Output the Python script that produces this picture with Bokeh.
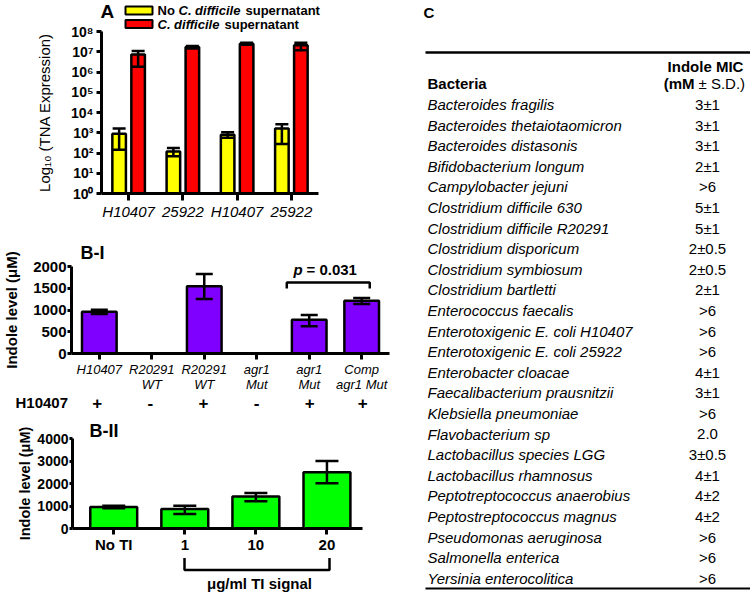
from bokeh.plotting import figure
from bokeh.models import (Range1d, FixedTicker, CustomJSTickFormatter, Whisker,
                          TeeHead, ColumnDataSource)
from bokeh.transform import dodge
from bokeh.core.properties import value
from bokeh.embed import file_html
from bokeh.resources import INLINE

FONT = "Liberation Sans"

# ---------------- Panel A data ----------------
a_strains = ["H10407", "25922", "H10407", "25922"]
a_no_sup = [900, 120, 800, 1600]
a_no_sup_lo = [145, 70, 560, 280]
a_no_sup_hi = [1600, 175, 1070, 2600]
a_sup = [7.4e6, 1.7e7, 2.5e7, 2.1e7]
a_sup_lo = [1.8e6, 1.45e7, 2.2e7, 1.2e7]
a_sup_hi = [1.1e7, 1.95e7, 2.8e7, 2.8e7]
a_yticks = [1, 10, 100, 1e3, 1e4, 1e5, 1e6, 1e7, 1e8]

# ---------------- Panel B-I data ----------------
bi_labels = ["H10407", "R20291\nWT", "R20291\nWT", "agr1\nMut", "agr1\nMut", "Comp\nagr1 Mut"]
bi_h10407 = ["+", "-", "+", "-", "+", "+"]
bi_vals = [960, 0, 1545, 0, 775, 1215]
bi_lo = [910, 0, 1255, 0, 625, 1140]
bi_hi = [1005, 0, 1830, 0, 885, 1275]
bi_yticks = [0, 500, 1000, 1500, 2000]
bi_pvalue = "0.031"

# ---------------- Panel B-II data ----------------
bii_labels = ["No TI", "1", "10", "20"]
bii_vals = [960, 865, 1420, 2500]
bii_lo = [900, 640, 1210, 2010]
bii_hi = [1010, 1015, 1580, 2995]
bii_yticks = [0, 1000, 2000, 3000, 4000]

# ---------------- Panel C data ----------------
c_bacteria = [
    "Bacteroides fragilis", "Bacteroides thetaiotaomicron", "Bacteroides distasonis",
    "Bifidobacterium longum", "Campylobacter jejuni", "Clostridium difficile 630",
    "Clostridium difficile R20291", "Clostridium disporicum", "Clostridium symbiosum",
    "Clostridium bartletti", "Enterococcus faecalis", "Enterotoxigenic E. coli  H10407",
    "Enterotoxigenic E. coli 25922", "Enterobacter cloacae", "Faecalibacterium prausnitzii",
    "Klebsiella pneumoniae", "Flavobacterium sp", "Lactobacillus species LGG",
    "Lactobacillus rhamnosus", "Peptotreptococcus anaerobius", "Peptostreptococcus magnus",
    "Pseudomonas aeruginosa", "Salmonella enterica", "Yersinia enterocolitica"]
c_mic = ["3\u00b11", "3\u00b11", "3\u00b11", "2\u00b11", ">6", "5\u00b11", "5\u00b11",
         "2\u00b10.5", "2\u00b10.5", "2\u00b11", ">6", ">6", ">6", "4\u00b11", "3\u00b11",
         ">6", "2.0", "3\u00b10.5", "4\u00b11", "4\u00b12", "4\u00b12", ">6", ">6", ">6"]

YELLOW = "#FFFF00"
RED = "#FF0000"
PURPLE = "#8000FF"
GREEN = "#00FF00"


def place(p, left, top):
    p.styles = {"position": "absolute", "left": f"{left}px", "top": f"{top}px"}


def style(p):
    p.outline_line_color = None
    p.xgrid.visible = False
    p.ygrid.visible = False
    p.background_fill_color = "white"
    p.border_fill_color = "white"
    for ax in p.axis:
        ax.axis_line_width = 3
        ax.axis_line_color = "black"
        ax.major_tick_line_width = 3
        ax.major_tick_line_color = "black"
        ax.major_tick_in = 0
        ax.minor_tick_line_color = None
        ax.major_label_text_font = FONT
        ax.major_label_text_color = "black"
        ax.axis_label_text_font = FONT
        ax.axis_label_text_color = "black"


def whisk(p, src, base, lo, hi, size):
    p.add_layout(Whisker(source=src, base=base, lower=lo, upper=hi, line_width=2.5,
                         line_color="black", level="annotation",
                         upper_head=TeeHead(size=size, line_width=2.5, line_color="black"),
                         lower_head=TeeHead(size=size, line_width=2.5, line_color="black")))


# ================= Panel A =================
# frame: x 101..318, y 31..195 (page pixels)
xa = list(range(1, len(a_strains) + 1))
srcA = ColumnDataSource(dict(x=xa, no=a_no_sup, no_lo=a_no_sup_lo, no_hi=a_no_sup_hi,
                             sup=a_sup, sup_lo=a_sup_lo, sup_hi=a_sup_hi))
pA = figure(width=420, height=222, x_range=Range1d(0.5, 4.5), y_range=Range1d(1, 1e8),
            y_axis_type="log", output_backend="svg", toolbar_location=None, title=None,
            min_border_left=101, min_border_right=102, min_border_top=31, min_border_bottom=27)
style(pA)
pA.vbar(x=dodge("x", -0.175, range=pA.x_range), top="no", bottom=1, width=0.25, source=srcA,
        fill_color=YELLOW, line_color="black", line_width=2.5)
pA.vbar(x=dodge("x", 0.175, range=pA.x_range), top="sup", bottom=1, width=0.25, source=srcA,
        fill_color=RED, line_color="black", line_width=2.5)
whisk(pA, srcA, dodge("x", -0.175, range=pA.x_range), "no_lo", "no_hi", 13)
whisk(pA, srcA, dodge("x", 0.175, range=pA.x_range), "sup_lo", "sup_hi", 13)
pA.yaxis.ticker = FixedTicker(ticks=a_yticks)
pA.yaxis.formatter = CustomJSTickFormatter(code="""
const sup = {"0":"\u2070","1":"\u00b9","2":"\u00b2","3":"\u00b3","4":"\u2074","5":"\u2075","6":"\u2076","7":"\u2077","8":"\u2078","9":"\u2079"};
const e = Math.round(Math.log10(tick));
return "10" + String(e).split("").map(c => sup[c]).join("");
""")
pA.yaxis.major_label_text_font_size = "14px"
pA.yaxis.major_label_text_font_style = "bold"
pA.yaxis.major_tick_out = 5
pA.yaxis.major_label_standoff = 3
pA.yaxis.axis_label = "Log\u2081\u2080 (TNA Expression)"
pA.yaxis.axis_label_text_font_size = "15px"
pA.yaxis.axis_label_text_font_style = "normal"
pA.yaxis.axis_label_standoff = 15
pA.xaxis.ticker = FixedTicker(ticks=xa)
pA.xaxis.major_label_overrides = {i: s for i, s in zip(xa, a_strains)}
pA.xaxis.major_label_text_font_size = "15px"
pA.xaxis.major_label_text_font_style = "italic"
pA.xaxis.major_tick_out = 7
pA.xaxis.major_label_standoff = 2
place(pA, 0, 0)

# ================= Panel B-I =================
# figure top 222; frame x 67..389, y 266..353
BI_X0, BI_X1 = 0.47, 6.53


def by_(py):
    return (353 - py) / 87 * 2000


def bx_(px):
    return BI_X0 + (px - 67) / 322 * (BI_X1 - BI_X0)


xbi = list(range(1, len(bi_labels) + 1))
srcBI = ColumnDataSource(dict(x=xbi, v=bi_vals))
ebi = [i for i, v in enumerate(bi_vals) if v > 0]
srcBIe = ColumnDataSource(dict(x=[xbi[i] for i in ebi], lo=[bi_lo[i] for i in ebi],
                               hi=[bi_hi[i] for i in ebi]))
pBI = figure(width=420, height=190, x_range=Range1d(BI_X0, BI_X1), y_range=Range1d(0, 2000),
             output_backend="svg", toolbar_location=None, title=None,
             min_border_left=67, min_border_right=31, min_border_top=44, min_border_bottom=59)
style(pBI)
pBI.vbar(x="x", top="v", bottom=0, width=0.66, source=srcBI, fill_color=PURPLE,
         line_color="black", line_width=2.5)
whisk(pBI, srcBIe, "x", "lo", "hi", 17)
pBI.yaxis.ticker = FixedTicker(ticks=bi_yticks)
pBI.yaxis.major_label_text_font_size = "15px"
pBI.yaxis.major_label_text_font_style = "bold"
pBI.yaxis.major_tick_out = 4
pBI.yaxis.major_label_standoff = 1
pBI.yaxis.axis_label = "Indole level (\u03bcM)"
pBI.yaxis.axis_label_text_font_size = "15px"
pBI.yaxis.axis_label_text_font_style = "bold"
pBI.yaxis.axis_label_standoff = 10
pBI.xaxis.ticker = FixedTicker(ticks=xbi)
pBI.xaxis.major_label_overrides = {i: s for i, s in zip(xbi, bi_labels)}
pBI.xaxis.major_label_text_font_size = "13px"
pBI.xaxis.major_label_text_font_style = "italic"
pBI.xaxis.major_label_text_line_height = 1.05
pBI.xaxis.major_tick_out = 6
pBI.xaxis.major_label_standoff = 2
# significance bracket between agr1 Mut and Comp agr1 Mut
pBI.line(x=[bx_(285), bx_(285), bx_(369), bx_(369)], y=[by_(288), by_(282), by_(282), by_(288)],
         line_width=2.5, line_color="black")
place(pBI, 0, 222)

# ================= Panel B-II =================
# figure top 412; frame x 72..362, y 438..528
BII_X0, BII_X1 = 0.42, 4.5


def cx_(px):
    return BII_X0 + (px - 72) / 290 * (BII_X1 - BII_X0)


xbii = list(range(1, len(bii_labels) + 1))
srcBII = ColumnDataSource(dict(x=xbii, v=bii_vals, lo=bii_lo, hi=bii_hi))
pBII = figure(width=420, height=145, x_range=Range1d(BII_X0, BII_X1), y_range=Range1d(0, 4000),
              output_backend="svg", toolbar_location=None, title=None,
              min_border_left=72, min_border_right=58, min_border_top=26, min_border_bottom=29)
style(pBII)
pBII.vbar(x="x", top="v", bottom=0, width=0.66, source=srcBII, fill_color=GREEN,
          line_color="black", line_width=2.5)
whisk(pBII, srcBII, "x", "lo", "hi", 23)
pBII.yaxis.ticker = FixedTicker(ticks=bii_yticks)
pBII.yaxis.major_label_text_font_size = "14px"
pBII.yaxis.major_label_text_font_style = "bold"
pBII.yaxis.major_tick_out = 3
pBII.yaxis.major_label_standoff = 1
pBII.yaxis.axis_label = "Indole level (\u03bcM)"
pBII.yaxis.axis_label_text_font_size = "14.5px"
pBII.yaxis.axis_label_text_font_style = "bold"
pBII.yaxis.axis_label_standoff = 1
pBII.xaxis.ticker = FixedTicker(ticks=xbii)
pBII.xaxis.major_label_overrides = {i: s for i, s in zip(xbii, bii_labels)}
pBII.xaxis.major_label_text_font_size = "15px"
pBII.xaxis.major_label_text_font_style = "bold"
pBII.xaxis.major_tick_out = 6
pBII.xaxis.major_label_standoff = 1
place(pBII, 0, 412)

# bracket under B-II (shares the x scale); y = page pixel - 557
pBIIb = figure(width=420, height=35, x_range=pBII.x_range, y_range=Range1d(35, 0),
               output_backend="svg", toolbar_location=None, title=None,
               x_axis_location=None, y_axis_location=None,
               min_border_left=72, min_border_right=58, min_border_top=0, min_border_bottom=0)
pBIIb.outline_line_color = None
pBIIb.xgrid.visible = False
pBIIb.ygrid.visible = False
pBIIb.line(x=[cx_(184), cx_(184), cx_(329), cx_(329)], y=[0.5, 12.5, 12.5, 0.5],
           line_width=2.5, line_color="black")
pBIIb.text(x=[cx_(259)], y=[26], text=["\u03bcg/ml TI signal"], text_font=value(FONT),
           text_font_style="bold", text_font_size="15px", text_align="center",
           text_baseline="middle", text_color="black")
place(pBIIb, 0, 557)

# ================= Panel C (table) =================
# x = page pixel - 420 ; y in row units (row i at page y 104 + 20.6 i)
ROW0, ROWH = 104, 20.6


def ry_(py):
    return (py - ROW0) / ROWH


rows_idx = list(range(len(c_bacteria)))
srcC = ColumnDataSource(dict(row=rows_idx, name=c_bacteria, mic=c_mic))
pC = figure(width=330, height=592, x_range=Range1d(0, 330), y_range=Range1d(ry_(592), ry_(0)),
            output_backend="svg", toolbar_location=None, title=None,
            x_axis_location=None, y_axis_location=None, min_border=0)
pC.outline_line_color = None
pC.xgrid.visible = False
pC.ygrid.visible = False
pC.text(x=7, y="row", text="name", source=srcC, text_font=value(FONT),
        text_font_style="italic", text_font_size="15px", text_baseline="middle",
        text_align="left", text_color="black")
pC.text(x=287, y="row", text="mic", source=srcC, text_font=value(FONT),
        text_font_size="15px", text_baseline="middle", text_align="center", text_color="black")


def ctext(x, y, t, style_="bold", align="left", size="15px"):
    pC.text(x=[x], y=[y], text=[t], text_font=value(FONT), text_font_style=style_,
            text_font_size=size, text_align=align, text_baseline="middle", text_color="black")


ctext(3, ry_(12), "C")
ctext(285, ry_(66), "Indole MIC", align="center")
ctext(274, ry_(83), "(mM", align="right")
ctext(278, ry_(83), "\u00b1 S.D.)", style_="normal")
ctext(7, ry_(83), "Bacteria")
pC.segment(x0=[5], y0=[ry_(52)], x1=[330], y1=[ry_(52)], line_width=2.5, line_color="black")
pC.segment(x0=[5], y0=[ry_(588)], x1=[330], y1=[ry_(588)], line_width=2, line_color="black")
place(pC, 420, 0)

# ================= Transparent overlay for panel letters, legend, H10407 row =================
# coordinates are page pixels (x right, y down) over the left column
ov = figure(width=420, height=592, x_range=Range1d(0, 420), y_range=Range1d(592, 0),
            output_backend="svg", toolbar_location=None, title=None,
            x_axis_location=None, y_axis_location=None, min_border=0)
ov.outline_line_color = None
ov.background_fill_color = None
ov.border_fill_color = None
ov.xgrid.visible = False
ov.ygrid.visible = False


def otext(x, y, t, size, style_="bold", align="left"):
    ov.text(x=[x], y=[y], text=[t], text_font=value(FONT), text_font_style=style_,
            text_font_size=size, text_align=align, text_baseline="middle", text_color="black")


otext(100, 11, "A", "19px")
# legend swatches
ov.quad(left=[125, 125], right=[152, 152], top=[6, 19.5], bottom=[14, 27.5],
        fill_color=[YELLOW, RED], line_color="black", line_width=2)
otext(157, 10, "No", "13px")
otext(178, 10, "C. difficile", "13px", "bold italic")
otext(245, 10, "supernatant", "13px")
otext(157, 23.5, "C. difficile", "13px", "bold italic")
otext(224, 23.5, "supernatant", "13px")
# B-I extras
otext(80, 252, "B-I", "18px")
otext(293, 269, "p", "15px", "bold italic")
otext(306, 269, "= " + bi_pvalue, "15px")
otext(15, 402, "H10407", "15px")
pm_x = [67 + (i - BI_X0) / (BI_X1 - BI_X0) * 322 + 1.5 for i in xbi]
ov.text(x=pm_x, y=[402] * len(pm_x), text=bi_h10407, text_font=value(FONT),
        text_font_style="bold", text_font_size="17px", text_align="center",
        text_baseline="middle", text_color="black")
# B-II letter
otext(89, 430, "B-II", "18px")
place(ov, 0, 0)

open("out.html", "w").write(file_html([pA, pBI, pBII, pBIIb, pC, ov], INLINE))
